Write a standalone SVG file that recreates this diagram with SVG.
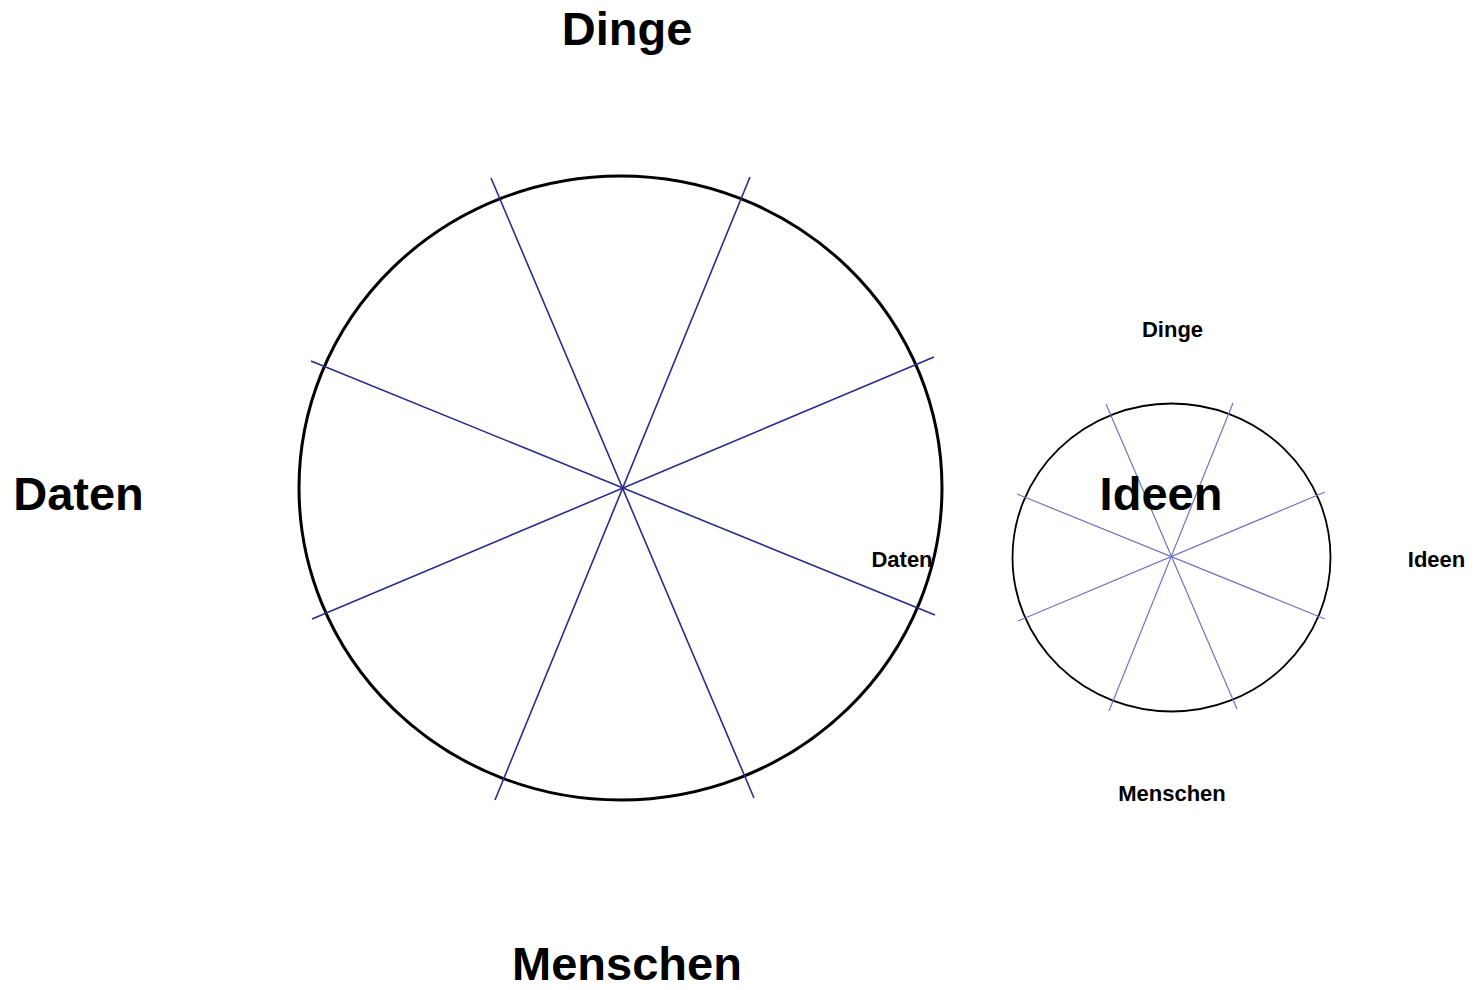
<svg xmlns="http://www.w3.org/2000/svg" width="1483" height="990" viewBox="0 0 1483 990">
<style>
.big{font-family:"Liberation Sans",Arial,sans-serif;font-weight:bold;font-size:47px;fill:#000;text-anchor:middle}
.small{font-family:"Liberation Sans",Arial,sans-serif;font-weight:bold;font-size:22px;fill:#000;text-anchor:middle}
.ring1{fill:none;stroke:#000;stroke-width:3}
.ring2{fill:none;stroke:#000;stroke-width:1.8}
.spoke1{stroke:#2b2b8c;stroke-width:1.6}
.spoke2{stroke:#7373c0;stroke-width:1.2}
</style>
<rect width="1483" height="990" fill="#fff"/>
<g id="large-wheel">
<ellipse class="ring1" cx="620.5" cy="488" rx="321.5" ry="312"/>
</g>
<g id="small-wheel">
<ellipse class="ring2" cx="1171.5" cy="557.5" rx="159" ry="154"/>
</g>
<g id="connectors">
<line class="spoke1" x1="491" y1="178" x2="754" y2="798"/>
<line class="spoke1" x1="750" y1="177" x2="495" y2="800"/>
<line class="spoke1" x1="311" y1="361" x2="935" y2="615"/>
<line class="spoke1" x1="934" y1="357" x2="312" y2="619"/>
<line class="spoke2" x1="1106" y1="404" x2="1237" y2="709"/>
<line class="spoke2" x1="1233" y1="403" x2="1109" y2="711"/>
<line class="spoke2" x1="1017" y1="494" x2="1325" y2="619"/>
<line class="spoke2" x1="1325" y1="492" x2="1018" y2="621"/>
</g>
<g id="labels-large">
<text class="big" x="627" y="45">Dinge</text>
<text class="big" x="78.5" y="510">Daten</text>
<text class="big" x="627" y="980">Menschen</text>
<text class="big" x="1161" y="510">Ideen</text>
</g>
<g id="labels-small">
<text class="small" x="1172.5" y="337">Dinge</text>
<text class="small" x="902" y="567">Daten</text>
<text class="small" x="1436.5" y="567">Ideen</text>
<text class="small" x="1172" y="801">Menschen</text>
</g>
</svg>
